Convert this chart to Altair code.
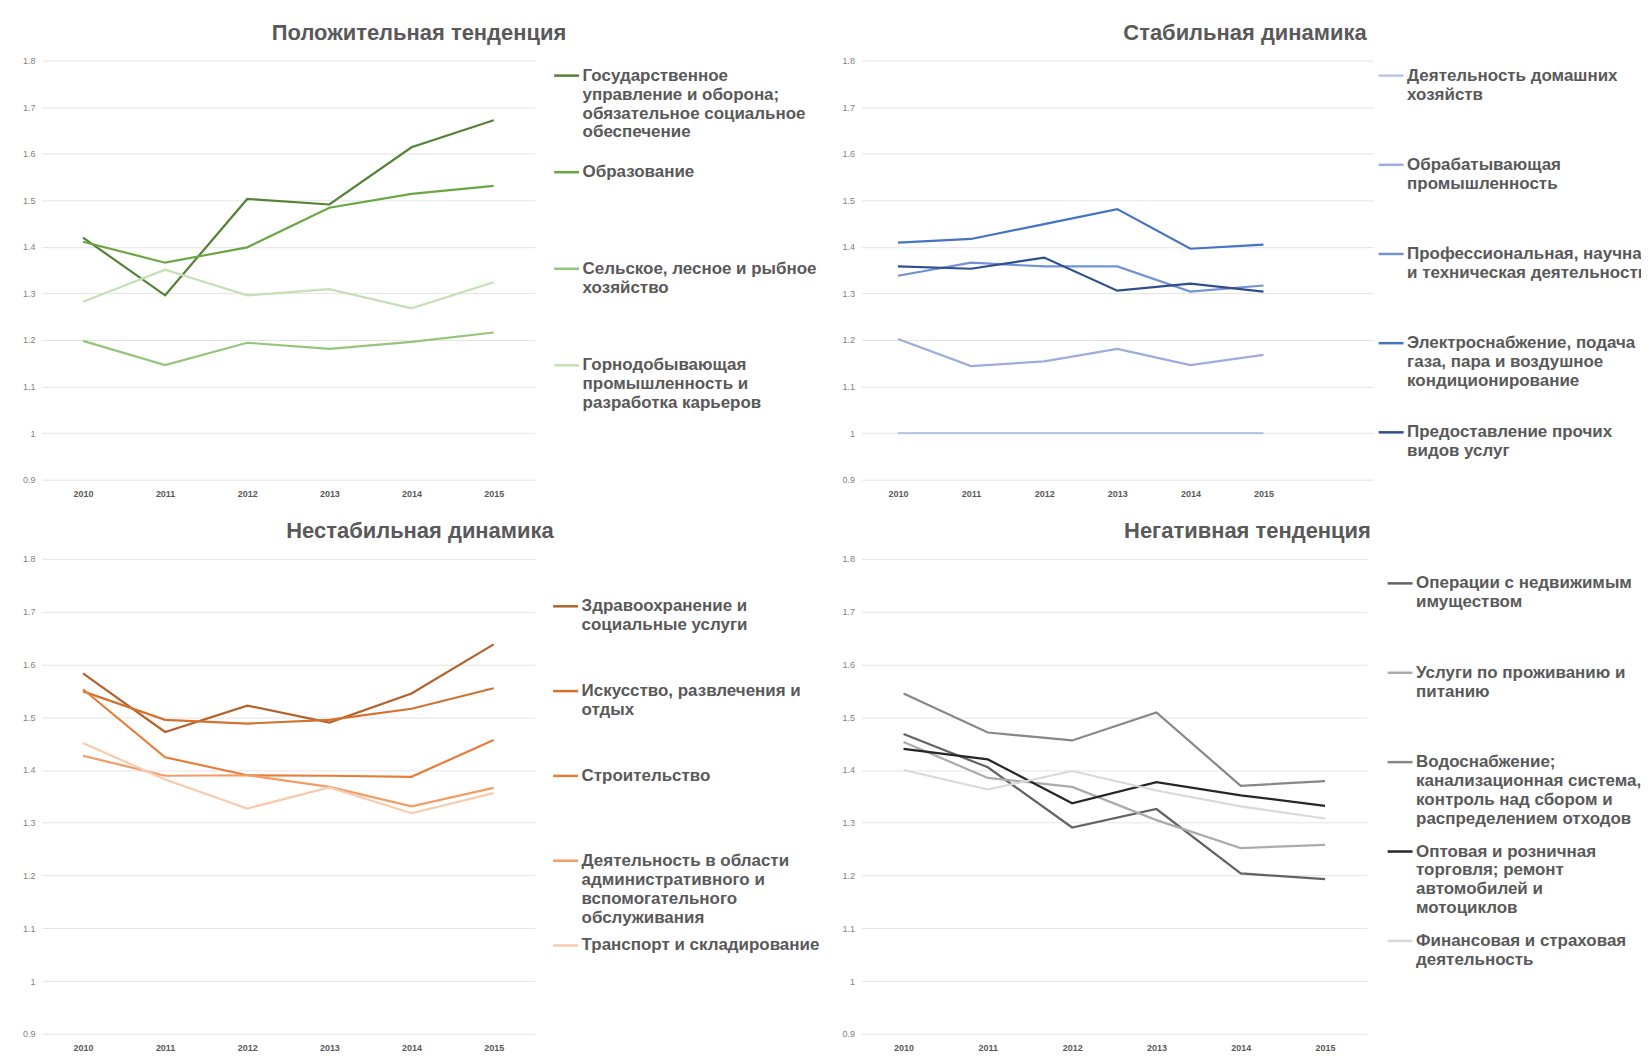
import altair as alt
import pandas as pd

years = [2010, 2011, 2012, 2013, 2014, 2015]
y_ticks = [0.9, 1.0, 1.1, 1.2, 1.3, 1.4, 1.5, 1.6, 1.7, 1.8]

# ---- Panel 1: Положительная тенденция
p1_title = "Положительная тенденция"
p1_names = [
    "Государственное|управление и оборона;|обязательное социальное|обеспечение",
    "Образование",
    "Сельское, лесное и рыбное|хозяйство",
    "Горнодобывающая|промышленность и|разработка карьеров",
]
p1_values = [
    [1.420, 1.296, 1.503, 1.491, 1.614, 1.672],
    [1.411, 1.366, 1.399, 1.484, 1.514, 1.531],
    [1.198, 1.146, 1.194, 1.181, 1.196, 1.216],
    [1.282, 1.351, 1.296, 1.309, 1.268, 1.324],
]
p1_colors = ["#548235", "#6BA644", "#94C67A", "#C5E0B4"]

# ---- Panel 2: Стабильная динамика
p2_title = "Стабильная динамика"
p2_names = [
    "Деятельность домашних|хозяйств",
    "Обрабатывающая|промышленность",
    "Профессиональная, научная|и техническая деятельность",
    "Электроснабжение, подача|газа, пара и воздушное|кондиционирование",
    "Предоставление прочих|видов услуг",
]
p2_values = [
    [1.000, 1.000, 1.000, 1.000, 1.000, 1.000],
    [1.202, 1.144, 1.154, 1.181, 1.146, 1.168],
    [1.338, 1.366, 1.358, 1.358, 1.304, 1.317],
    [1.409, 1.417, 1.449, 1.481, 1.396, 1.405],
    [1.358, 1.353, 1.377, 1.306, 1.321, 1.304],
]
p2_colors = ["#B4C7E7", "#9CADDD", "#7292D5", "#4472C4", "#2F4E8C"]

# ---- Panel 3: Нестабильная динамика
p3_title = "Нестабильная динамика"
p3_names = [
    "Здравоохранение и|социальные услуги",
    "Искусство, развлечения и|отдых",
    "Строительство",
    "Деятельность в области|административного и|вспомогательного|обслуживания",
    "Транспорт и складирование",
]
p3_values = [
    [1.583, 1.472, 1.522, 1.490, 1.545, 1.638],
    [1.549, 1.495, 1.488, 1.495, 1.516, 1.555],
    [1.553, 1.424, 1.390, 1.389, 1.387, 1.457],
    [1.427, 1.389, 1.390, 1.368, 1.331, 1.366],
    [1.451, 1.382, 1.327, 1.367, 1.318, 1.356],
]
p3_colors = ["#B4622B", "#D5712F", "#E87D3A", "#F29C66", "#F8CBAD"]

# ---- Panel 4: Негативная тенденция
p4_title = "Негативная тенденция"
p4_names = [
    "Операции с недвижимым|имуществом",
    "Услуги по проживанию и|питанию",
    "Водоснабжение;|канализационная система,|контроль над сбором и|распределением отходов",
    "Оптовая и розничная|торговля; ремонт|автомобилей и|мотоциклов",
    "Финансовая и страховая|деятельность",
]
p4_values = [
    [1.468, 1.405, 1.291, 1.326, 1.204, 1.193],
    [1.453, 1.385, 1.368, 1.305, 1.252, 1.258],
    [1.545, 1.471, 1.456, 1.509, 1.370, 1.379],
    [1.440, 1.420, 1.337, 1.377, 1.352, 1.332],
    [1.400, 1.363, 1.398, 1.361, 1.331, 1.308],
]
p4_colors = ["#636363", "#ABABAB", "#878787", "#262626", "#D9D9D9"]

FONT = "Liberation Sans"
TEXT = "#595959"
# legend line symbol, raised so that it sits level with the first text line
LEGEND_SYMBOL = "M-1,-0.4L1,-0.4"


def make_panel(title, names, values, colors, width, height, xmax,
               title_dx, legend_x, legend_y, row_pad):
    rows = []
    for n, vs in zip(names, values):
        for yr, v in zip(years, vs):
            rows.append({"year": yr, "value": v, "series": n})
    df = pd.DataFrame(rows)
    return alt.Chart(df).mark_line(strokeWidth=2.2).encode(
        x=alt.X("year:Q",
                scale=alt.Scale(domain=[2009.5, xmax], nice=False, zero=False),
                axis=alt.Axis(values=years, format="d", grid=False, domain=False,
                              ticks=False, labelFontWeight="bold", labelFontSize=9,
                              labelColor=TEXT, labelPadding=10, labelFont=FONT,
                              title=None)),
        y=alt.Y("value:Q",
                scale=alt.Scale(domain=[0.9, 1.8], nice=False, zero=False),
                axis=alt.Axis(values=y_ticks, format="~g", grid=True,
                              gridColor="#E4E4E4", domain=False, ticks=False,
                              labelFontSize=9, labelColor="#7F7F7F",
                              labelPadding=7, labelFont=FONT, title=None)),
        color=alt.Color("series:N",
                        scale=alt.Scale(domain=names, range=colors),
                        sort=names,
                        legend=alt.Legend(orient="none", legendX=legend_x,
                                          legendY=legend_y, title=None,
                                          symbolType=LEGEND_SYMBOL, symbolSize=625,
                                          symbolStrokeWidth=2.5,
                                          labelExpr="split(datum.label, '|')",
                                          labelFont=FONT, labelFontSize=17,
                                          labelFontWeight="bold",
                                          labelColor=TEXT, labelLimit=600,
                                          labelBaseline="alphabetic",
                                          gridAlign="all", rowPadding=row_pad,
                                          labelOffset=2, padding=0)),
    ).properties(
        width=width, height=height,
        title=alt.TitleParams(title, font=FONT, fontSize=22, fontWeight="bold",
                              color=TEXT, anchor="middle", dx=title_dx,
                              offset=11.5),
    )


p1 = make_panel(p1_title, p1_names, p1_values, p1_colors, 494, 420, 2015.5,
                131, 512, 6, 22.8)
p2 = make_panel(p2_title, p2_names, p2_values, p2_colors, 513, 420, 2016.5,
                128, 517, 6, 34.4)
p3 = make_panel(p3_title, p3_names, p3_values, p3_colors, 494, 476, 2015.5,
                132, 511, 38.5, 11)
p4 = make_panel(p4_title, p4_names, p4_values, p4_colors, 507, 476, 2015.5,
                133.5, 526, 15.5, 15.6)

chart = alt.concat(
    p1, p2, p3, p4, columns=2, bounds="flush",
    spacing={"row": 79.5, "column": 327.5},
).resolve_scale(color="independent").resolve_legend(color="independent").properties(
    padding={"left": 14, "top": 12.5, "right": -12, "bottom": 2},
    background="white",
).configure_view(stroke=None)

chart.save("out.html", embed_options={"renderer": "svg", "actions": False})
